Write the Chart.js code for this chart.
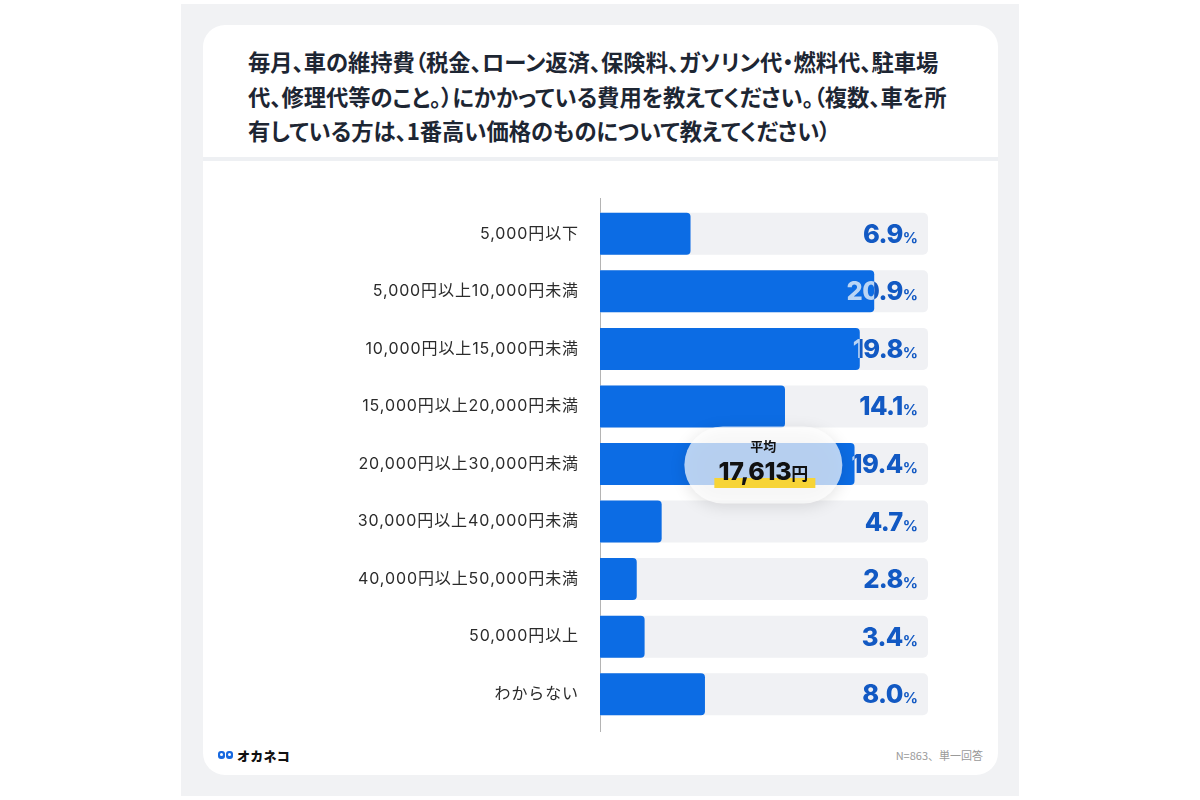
<!DOCTYPE html>
<html lang="ja">
<head>
<meta charset="utf-8">
<script src="https://cdn.jsdelivr.net/npm/chart.js@4"></script>
<style>
  html, body { margin: 0; padding: 0; background: #fff; }
  body { width: 1200px; height: 800px; position: relative; overflow: hidden;
         font-family: 'Noto Sans CJK JP', 'Noto Sans', sans-serif; }
  .panel { position: absolute; left: 181px; top: 4px; width: 838px; height: 792px; background: #f1f2f4; }
  .card { position: absolute; left: 203px; top: 25px; width: 795px; height: 750px; background: #fff; border-radius: 22px; }
  .sep { position: absolute; left: 203px; top: 157px; width: 795px; height: 4px; background: #eef0f3; }
  .title { position: absolute; left: 248px; top: 44px; font-size: 22.3px; font-weight: 700;
           line-height: 34.5px; color: #1d2633; font-feature-settings: 'palt'; white-space: nowrap; }
  .logo { position: absolute; left: 218px; top: 745px; height: 20px; display: flex; align-items: center; }
  .logo .eye { width: 7px; height: 8px; background: #1769e0; border-radius: 3px; margin-right: 1px; position: relative; }
  .logo .eye::after { content: ''; position: absolute; left: 2px; top: 2px; width: 3px; height: 3px; background: #fff; border-radius: 50%; }
  .logo .name { font-size: 13px; font-weight: 900; color: #111; margin-left: 3px; letter-spacing: 0.3px; }
  .note { position: absolute; right: 217px; top: 747px; font-size: 11px; color: #9a9a9a; }
  #chart { position: absolute; left: 0; top: 0; }
</style>
</head>
<body>
<div class="panel"></div>
<div class="card"></div>
<div class="sep"></div>
<div class="title">毎月、車の維持費（税金、ローン返済、保険料、ガソリン代・燃料代、駐車場<br>代、修理代等のこと。）にかかっている費用を教えてください。（複数、車を所<br>有している方は、1番高い価格のものについて教えてください）</div>
<div class="logo"><div class="eye"></div><div class="eye"></div><span class="name">オカネコ</span></div>
<div class="note">N=863、単一回答</div>
<canvas id="chart" width="1200" height="800"></canvas>
<script>
const categories = [
    '5,000円以下',
    '5,000円以上10,000円未満',
    '10,000円以上15,000円未満',
    '15,000円以上20,000円未満',
    '20,000円以上30,000円未満',
    '30,000円以上40,000円未満',
    '40,000円以上50,000円未満',
    '50,000円以上',
    'わからない'
];
const shares = [6.9, 20.9, 19.8, 14.1, 19.4, 4.7, 2.8, 3.4, 8.0];
const axisMax = 25;
const averageLabel = '平均';
const averageValue = '17,613';
const averageIndex = 4;     // row the average badge sits on
const averageAt = 12.45;    // badge centre on the x scale

const barBlue = '#0c6ce4';
const trackGrey = '#f0f1f4';
const labelBlue = '#1259c3';
const labelLight = '#b9d5f6';

// wider spacing for the category labels (canvas state, picked up by the y scale)
const tickSpacing = {
    id: 'tickSpacing',
    beforeDraw(chart) {
        chart.ctx.letterSpacing = '0.9px';
    }
};

// thin vertical axis line, a bit longer than the bars
const axisLine = {
    id: 'axisLine',
    beforeDatasetsDraw(chart) {
        const { ctx, chartArea } = chart;
        ctx.letterSpacing = '0px';
        ctx.save();
        ctx.strokeStyle = '#b4b4b4';
        ctx.lineWidth = 1;
        ctx.beginPath();
        ctx.moveTo(chartArea.left + 0.5, chartArea.top - 7);
        ctx.lineTo(chartArea.left + 0.5, chartArea.bottom + 9);
        ctx.stroke();
        ctx.restore();
    }
};

function drawValue(ctx, text, right, base) {
    ctx.letterSpacing = '0px';
    ctx.font = '700 15px Inter, sans-serif';
    const pw = ctx.measureText('%').width;
    ctx.textAlign = 'right';
    ctx.fillText('%', right, base);
    ctx.letterSpacing = '-0.6px';
    ctx.font = '800 25.5px Inter, sans-serif';
    ctx.fillText(text, right - pw, base);
}

const overlays = {
    id: 'overlays',
    afterDatasetsDraw(chart) {
        const { ctx } = chart;
        const x = chart.scales.x;
        const y = chart.scales.y;
        const bars = chart.getDatasetMeta(0).data;

        // average badge
        const cx = x.getPixelForValue(averageAt);
        const cy = y.getPixelForValue(averageIndex) + 1;
        const w = 158, h = 77, r = 38.5;
        ctx.save();
        ctx.shadowColor = 'rgba(0,0,0,0.16)';
        ctx.shadowBlur = 16;
        ctx.shadowOffsetY = 3;
        ctx.fillStyle = 'rgba(255,255,255,0.7)';
        ctx.beginPath();
        ctx.roundRect(cx - w / 2, cy - h / 2, w, h, r);
        ctx.fill();
        ctx.restore();

        ctx.save();
        ctx.fillStyle = '#f7d436';
        ctx.fillRect(cx - 49, cy + 13, 101, 10);
        ctx.fillStyle = '#111';
        ctx.textAlign = 'center';
        ctx.textBaseline = 'alphabetic';
        ctx.font = "700 13px 'Noto Sans CJK JP', sans-serif";
        ctx.fillText(averageLabel, cx, cy - 14);
        ctx.letterSpacing = '-0.3px';
        ctx.font = '800 25px Inter, sans-serif';
        const nw = ctx.measureText(averageValue).width;
        ctx.letterSpacing = '0px';
        ctx.font = "700 17px 'Noto Sans CJK JP', sans-serif";
        const yw = ctx.measureText('円').width;
        const start = cx - (nw + yw) / 2;
        ctx.textAlign = 'left';
        ctx.letterSpacing = '-0.3px';
        ctx.font = '800 25px Inter, sans-serif';
        ctx.fillText(averageValue, start, cy + 15);
        ctx.letterSpacing = '0px';
        ctx.font = "700 17px 'Noto Sans CJK JP', sans-serif";
        ctx.fillText('円', start + nw, cy + 15);
        ctx.restore();

        // value labels, lighter where they run over a bar
        const right = x.getPixelForValue(axisMax) - 10;
        shares.forEach((v, i) => {
            const text = v.toFixed(1);
            const base = y.getPixelForValue(i) + 9;
            ctx.save();
            ctx.textBaseline = 'alphabetic';
            ctx.fillStyle = labelBlue;
            drawValue(ctx, text, right, base);
            ctx.beginPath();
            ctx.rect(x.left, bars[i].y - 25, bars[i].x - x.left, 50);
            ctx.clip();
            ctx.fillStyle = labelLight;
            drawValue(ctx, text, right, base);
            ctx.restore();
        });
        ctx.letterSpacing = '0px';
    }
};

Chart.defaults.font.family = "Inter, 'Noto Sans CJK JP', 'Noto Sans', sans-serif";

new Chart(document.getElementById('chart').getContext('2d'), {
    type: 'bar',
    data: {
        labels: categories,
        datasets: [{
            data: shares,
            backgroundColor: barBlue,
            borderRadius: 4,
            borderSkipped: 'start',
            grouped: false,
            order: 1
        }, {
            data: categories.map(() => axisMax),
            backgroundColor: trackGrey,
            borderRadius: 5,
            borderSkipped: 'start',
            grouped: false,
            order: 2
        }]
    },
    options: {
        indexAxis: 'y',
        responsive: false,
        animation: false,
        devicePixelRatio: 1,
        categoryPercentage: 1,
        barPercentage: 0.73,
        layout: { padding: { top: 205, bottom: 77, left: 0, right: 272 } },
        plugins: { legend: { display: false }, tooltip: { enabled: false } },
        scales: {
            x: { min: 0, max: axisMax, display: false },
            y: {
                grid: { display: false, drawTicks: false },
                border: { display: false },
                ticks: { color: '#2b2b2b', padding: 21, font: { size: 16 } },
                afterFit(scale) { scale.width = 600; }
            }
        }
    },
    plugins: [tickSpacing, axisLine, overlays]
});
</script>
</body>
</html>
